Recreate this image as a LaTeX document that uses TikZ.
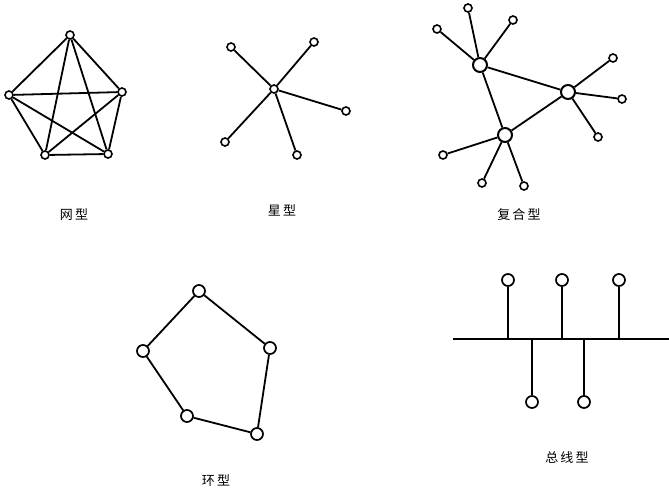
\documentclass[tikz,border=0pt]{standalone}
\usepackage{fontspec}
\newfontfamily\cjk{Noto Sans CJK SC}
\begin{document}
\begin{tikzpicture}[x=1pt,y=-1pt,
  line width=1.8pt,
  sn/.style={circle,draw,fill=white,inner sep=0pt,minimum size=8pt,line width=1.6pt},
  mn/.style={circle,draw,fill=white,inner sep=0pt,minimum size=12pt,line width=1.7pt},
  hub/.style={circle,draw,fill=white,inner sep=0pt,minimum size=14pt,line width=2pt},
  lbl/.style={font=\cjk\fontsize{13}{15}\selectfont}]
\useasboundingbox (0,0) rectangle (669,496);
% mesh
\node[sn] (m1) at (70,35) {};
\node[sn] (m2) at (9,95) {};
\node[sn] (m3) at (122,92) {};
\node[sn] (m4) at (45,155) {};
\node[sn] (m5) at (108,154) {};
\foreach \a/\b in {m1/m2,m1/m3,m1/m4,m1/m5,m2/m3,m2/m4,m2/m5,m3/m4,m3/m5,m4/m5}
  \draw (\a) -- (\b);
% star
\node[sn] (s0) at (274,89) {};
\node[sn] (s1) at (231,47) {};
\node[sn] (s2) at (314,42) {};
\node[sn] (s3) at (346,111) {};
\node[sn] (s4) at (225,142) {};
\node[sn] (s5) at (297,155) {};
\foreach \b in {s1,s2,s3,s4,s5} \draw (s0) -- (\b);
% composite
\node[hub] (h1) at (480,65) {};
\node[hub] (h2) at (568,92) {};
\node[hub] (h3) at (505,135) {};
\node[sn] (a1) at (468,8) {};
\node[sn] (a2) at (437,29) {};
\node[sn] (a3) at (513,20) {};
\node[sn] (b1) at (613,58) {};
\node[sn] (b2) at (622,99) {};
\node[sn] (b3) at (598,137) {};
\node[sn] (c1) at (443,155) {};
\node[sn] (c2) at (482,183) {};
\node[sn] (c3) at (524,186) {};
\draw (h1) -- (h2) (h2) -- (h3) (h3) -- (h1);
\foreach \b in {a1,a2,a3} \draw (h1) -- (\b);
\foreach \b in {b1,b2,b3} \draw (h2) -- (\b);
\foreach \b in {c1,c2,c3} \draw (h3) -- (\b);
% ring
\node[mn] (r1) at (199,291) {};
\node[mn] (r2) at (270,348) {};
\node[mn] (r3) at (257,434) {};
\node[mn] (r4) at (187,416) {};
\node[mn] (r5) at (143,351) {};
\draw (r1) -- (r2) (r2) -- (r3) (r3) -- (r4) (r4) -- (r5) (r5) -- (r1);
% bus
\coordinate (bl) at (453,339);
\coordinate (br) at (669,339);
\draw (bl) -- (br);
\node[mn] (u1) at (508,280) {};
\node[mn] (u2) at (562,280) {};
\node[mn] (u3) at (619,280) {};
\node[mn] (d1) at (532,402) {};
\node[mn] (d2) at (584,402) {};
\foreach \n in {u1,u2,u3,d1,d2} \draw (\n) -- (\n |- bl);
% labels
\node[lbl] (t1) at (74,215) {网\,型};
\node[lbl] (t2) at (282,210) {星\,型};
\node[lbl] (t3) at (519,215) {复\,合\,型};
\node[lbl] (t4) at (216,481) {环\,型};
\node[lbl] (t5) at (567,458) {总\,线\,型};
\end{tikzpicture}
\end{document}
